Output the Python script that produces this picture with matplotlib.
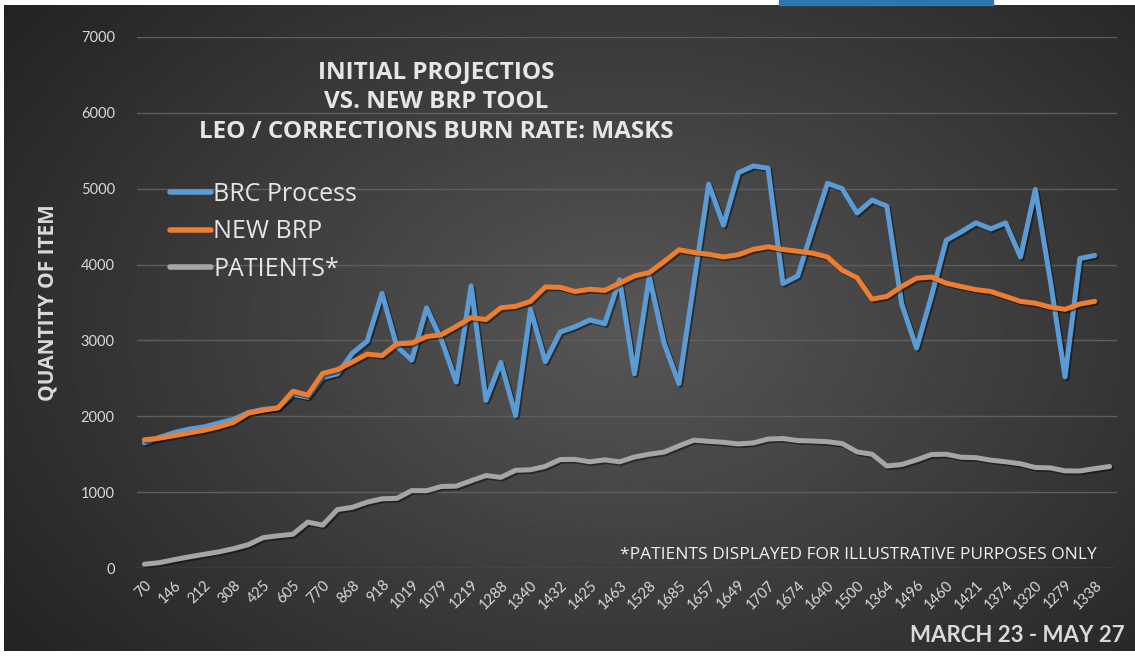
import matplotlib
matplotlib.use("Agg")
import matplotlib.pyplot as plt
import matplotlib.patheffects as pe
from matplotlib.patches import Rectangle
import numpy as np

# x-axis tick labels (every other category)
tick_labels = [70, 146, 212, 308, 425, 605, 770, 868, 918, 1019, 1079, 1219,
               1288, 1340, 1432, 1425, 1463, 1528, 1685, 1657, 1649, 1707,
               1674, 1640, 1500, 1364, 1496, 1460, 1421, 1374, 1320, 1279, 1338]

brc_process = [1650, 1720, 1785, 1830, 1860, 1910, 1960, 2050, 2090, 2110,
               2290, 2250, 2510, 2560, 2830, 2990, 3620, 2920, 2740, 3430,
               3010, 2450, 3720, 2210, 2710, 2010, 3410, 2720, 3110, 3180,
               3270, 3220, 3800, 2560, 3840, 2960, 2430, 3750, 5060, 4520,
               5210, 5300, 5270, 3750, 3850, 4470, 5070, 5000, 4680, 4850,
               4770, 3480, 2900, 3580, 4320, 4430, 4550, 4470, 4550, 4100,
               4990, 3800, 2520, 4080, 4120]

new_brp = [1690, 1710, 1745, 1780, 1815, 1860, 1920, 2040, 2080, 2110,
           2330, 2280, 2565, 2615, 2715, 2820, 2800, 2955, 2965, 3050,
           3075, 3185, 3300, 3275, 3430, 3450, 3515, 3705, 3700, 3645,
           3675, 3660, 3755, 3850, 3895, 4040, 4195, 4160, 4135, 4100,
           4130, 4200, 4235, 4200, 4175, 4150, 4100, 3925, 3825, 3545,
           3580, 3710, 3820, 3835, 3755, 3710, 3670, 3645, 3580, 3515,
           3490, 3440, 3410, 3480, 3515]

patients = [50, 70, 110, 146, 180, 212, 255, 308, 400, 425,
            445, 605, 565, 770, 800, 868, 912, 918, 1020, 1019,
            1075, 1079, 1150, 1219, 1195, 1288, 1295, 1340, 1430, 1432,
            1400, 1425, 1400, 1463, 1500, 1528, 1610, 1685, 1670, 1657,
            1635, 1649, 1700, 1707, 1680, 1674, 1665, 1640, 1530, 1500,
            1345, 1364, 1425, 1496, 1500, 1460, 1455, 1421, 1400, 1374,
            1325, 1320, 1280, 1279, 1310, 1338]

W, H = 1135, 658
fig = plt.figure(figsize=(W / 100, H / 100), dpi=100)
fig.patch.set_facecolor("white")

# dark radial-gradient background
bg = fig.add_axes([4 / W, 7 / H, (W - 4) / W, (H - 12) / H])
yy, xx = np.mgrid[0:1:300j, 0:1:600j]
r = np.sqrt(((xx - 0.55) / 0.75) ** 2 + ((yy - 0.5) / 0.9) ** 2)
shade = np.clip(0.34 - 0.22 * r, 0.12, 0.35)
bg.imshow(shade, cmap="gray", vmin=0, vmax=1, aspect="auto",
          extent=[0, 1, 0, 1], interpolation="bilinear")
bg.axis("off")

# blue bar at top edge
fig.patches.append(Rectangle((779 / W, 1 - 5 / H), (993 - 779) / W, 5 / H,
                             transform=fig.transFigure, color="#2e75b6",
                             zorder=5))

ax = fig.add_axes([137 / W, 90 / H, 980 / W, 531 / H])
ax.set_facecolor("none")

shadow = [pe.SimpleLineShadow(offset=(1.2, -1.2), alpha=0.45, shadow_color="black"),
          pe.Normal()]
x_main = np.arange(len(brc_process))
x_pat = np.arange(len(patients))
ax.plot(x_pat, patients, color="#a5a5a5", lw=3.6, label="PATIENTS*",
        solid_capstyle="round", solid_joinstyle="round", path_effects=shadow)
ax.plot(x_main, brc_process, color="#5b9bd5", lw=3.6, label="BRC Process",
        solid_capstyle="round", solid_joinstyle="round", path_effects=shadow)
ax.plot(x_main, new_brp, color="#ed7d31", lw=3.6, label="NEW BRP",
        solid_capstyle="round", solid_joinstyle="round", path_effects=shadow)

ax.set_xlim(-0.5, len(patients) - 0.5)
ax.set_ylim(0, 7000)
ax.set_yticks(range(0, 7001, 1000))
ax.yaxis.grid(True, color="#5e5e5e", lw=1)
ax.set_axisbelow(True)
for s in ax.spines.values():
    s.set_visible(False)
ax.tick_params(axis="both", length=0, colors="#d9d9d9")
ax.tick_params(axis="y", pad=16)
for t in ax.get_yticklabels():
    t.set_fontfamily("Lato")
    t.set_fontsize(10.5)

ax.set_xticks(np.arange(0, 2 * len(tick_labels), 2))
ax.set_xticklabels([str(v) for v in tick_labels], rotation=45, ha="right",
                   rotation_mode="anchor", fontsize=10.5, family="Lato",
                   color="#d9d9d9")
ax.tick_params(axis="x", pad=7)

ax.set_ylabel("QUANTITY OF ITEM", fontsize=15, fontweight="bold",
              family="Open Sans", color="#d9d9d9", labelpad=16)

# legend
handles, labels = ax.get_legend_handles_labels()
order = [1, 2, 0]
leg = fig.legend([handles[i] for i in order], [labels[i] for i in order],
                 loc="center left", bbox_to_anchor=(170 / W, 1 - 232 / H),
                 frameon=False, borderpad=0, borderaxespad=0,
                 handlelength=1.65, handletextpad=0.08, labelspacing=0.5,
                 prop={"family": "Open Sans", "size": 18})
for t in leg.get_texts():
    t.set_color("#e6e6e6")
for h in leg.get_lines():
    h.set_path_effects([])
    h.set_linewidth(4)

# title block
title_kw = dict(ha="center", va="center", fontsize=17.5, fontweight="bold",
                family="Open Sans", color="#e6e6e6")
fig.text(436 / W, 1 - 72 / H, "INITIAL PROJECTIOS", **title_kw)
fig.text(436 / W, 1 - 102 / H, "VS. NEW BRP TOOL", **title_kw)
fig.text(436 / W, 1 - 132 / H, "LEO / CORRECTIONS BURN RATE: MASKS", **title_kw)

fig.text(1097 / W, 1 - 555 / H, "*PATIENTS DISPLAYED FOR ILLUSTRATIVE PURPOSES ONLY",
         ha="right", va="center", fontsize=12.5, family="Open Sans",
         color="#f0f0f0")
fig.text(1125 / W, 1 - 636 / H, "MARCH 23 - MAY 27", ha="right", va="center",
         fontsize=16, fontweight="bold", family="Lato", color="#d9d9d9")

fig.savefig("out.png", dpi=100, facecolor=fig.get_facecolor())
